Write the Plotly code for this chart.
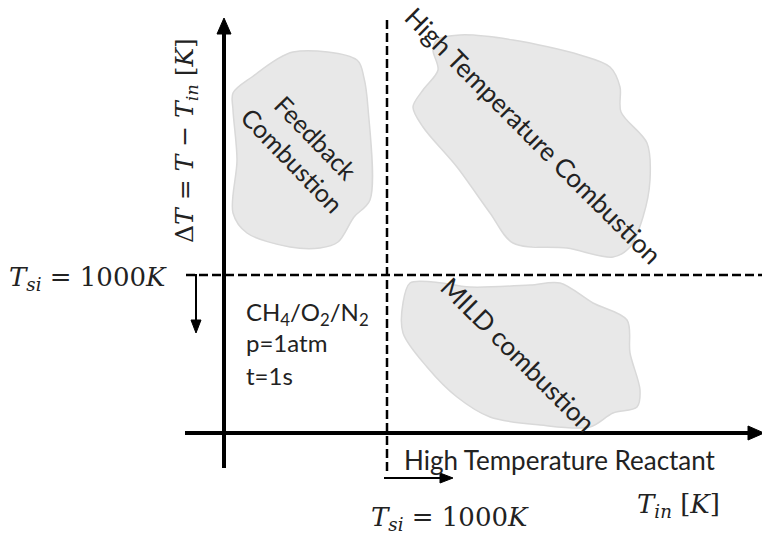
import plotly.graph_objects as go

# ---- canvas geometry (schematic, pixel-like data units) ----
W, H = 762, 536

# axes
y_axis_x = [224, 224]
y_axis_y = [468, 30]
y_head_x = [217, 231, 224, 217]
y_head_y = [34, 34, 18, 34]

x_axis_x = [185, 750]
x_axis_y = [433, 433]
x_head_x = [748, 748, 764, 748]
x_head_y = [426, 440, 433, 426]

# thresholds (dashed)
h_dash_x = [186, 762]
h_dash_y = [275, 275]
v_dash_x = [387, 387]
v_dash_y = [20, 472]

# small arrows
down_x = [186, 196, 196]
down_y = [275, 275, 322]
down_head_x = [191, 201, 196, 191]
down_head_y = [320, 320, 333, 320]
right_x = [384, 442]
right_y = [478, 478]
right_head_x = [440, 440, 453, 440]
right_head_y = [473, 483, 478, 473]

# regime blobs
feedback_x = [233, 252, 293, 357, 364, 368, 370, 354, 338, 320, 290, 247, 233, 237, 233]
feedback_y = [93, 77, 52, 60, 78, 108, 200, 217, 242, 248, 247, 233, 213, 160, 110]

htc_x = [437, 460, 513, 580, 610, 620, 621, 647, 650, 643, 630, 613, 567, 513, 490, 457, 423, 413, 423, 438, 433]
htc_y = [40, 35, 40, 55, 67, 87, 112, 143, 180, 217, 247, 257, 248, 243, 213, 167, 127, 107, 90, 70, 50]

mild_x = [410, 433, 470, 530, 560, 593, 627, 630, 640, 637, 613, 590, 540, 490, 457, 427, 403, 403]
mild_y = [283, 282, 287, 285, 283, 303, 320, 353, 390, 407, 413, 427, 425, 417, 397, 367, 333, 303]

blob_fill = "#e8e8e8"
blob_line = "#d9d9d9"

fig = go.Figure()

for bx, by in [(feedback_x, feedback_y), (htc_x, htc_y), (mild_x, mild_y)]:
    fig.add_trace(go.Scatter(x=bx + [bx[0]], y=by + [by[0]], mode="lines", fill="toself",
                             fillcolor=blob_fill, line=dict(color=blob_line, width=1.5, shape="spline", smoothing=0.9),
                             hoverinfo="skip", showlegend=False))

# dashed threshold lines
for lx, ly in [(h_dash_x, h_dash_y), (v_dash_x, v_dash_y)]:
    fig.add_trace(go.Scatter(x=lx, y=ly, mode="lines", line=dict(color="black", width=2.5, dash="9px,4px"),
                             hoverinfo="skip", showlegend=False, cliponaxis=False))

# axes
for lx, ly in [(y_axis_x, y_axis_y), (x_axis_x, x_axis_y)]:
    fig.add_trace(go.Scatter(x=lx, y=ly, mode="lines", line=dict(color="black", width=4),
                             hoverinfo="skip", showlegend=False, cliponaxis=False))
for lx, ly in [(down_x, down_y), (right_x, right_y)]:
    fig.add_trace(go.Scatter(x=lx, y=ly, mode="lines", line=dict(color="black", width=2),
                             hoverinfo="skip", showlegend=False, cliponaxis=False))
for hx, hy in [(y_head_x, y_head_y), (x_head_x, x_head_y), (down_head_x, down_head_y), (right_head_x, right_head_y)]:
    fig.add_trace(go.Scatter(x=hx, y=hy, mode="lines", fill="toself", fillcolor="black",
                             line=dict(color="black", width=1), hoverinfo="skip", showlegend=False, cliponaxis=False))

sans = "Lato"
serif = "DejaVu Serif"

def ann(x, y, text, size, family=sans, angle=0, xanchor="center", yanchor="middle"):
    fig.add_annotation(x=x, y=y, text=text, showarrow=False, textangle=angle,
                       font=dict(family=family, size=size, color="#222"),
                       xanchor=xanchor, yanchor=yanchor)

# regime labels
ann(304, 148, "Feedback<br>Combustion", 25, angle=46)
ann(533, 135, "High Temperature Combustion", 26, angle=45)
ann(518, 354, "MILD combustion", 26, angle=45)

# conditions
ann(244, 313, "CH<sub>4</sub>/O<sub>2</sub>/N<sub>2</sub>", 24, xanchor="left")
ann(244, 342, "p=1atm", 24, xanchor="left")
ann(244, 375, "t=1s", 24, xanchor="left")

ann(560, 460, "High Temperature Reactant", 26)

# math labels
ann(88, 278, "<i>T<sub>si</sub></i> = 1000<i>K</i>", 26, family=serif)
ann(450, 518, "<i>T<sub>si</sub></i> = 1000<i>K</i>", 26, family=serif)
ann(678, 505, "<i>T<sub>in</sub></i> [<i>K</i>]", 26, family=serif)
ann(186, 141, "Δ<i>T</i> = <i>T</i> − <i>T<sub>in</sub></i> [<i>K</i>]", 25, family=serif, angle=-90)

fig.update_layout(width=W, height=H, margin=dict(l=0, r=0, t=0, b=0),
                  paper_bgcolor="white", plot_bgcolor="white",
                  xaxis=dict(range=[0, W], visible=False, fixedrange=True),
                  yaxis=dict(range=[H, 0], visible=False, fixedrange=True))

fig.write_html("out.html", config={"displayModeBar": False})
